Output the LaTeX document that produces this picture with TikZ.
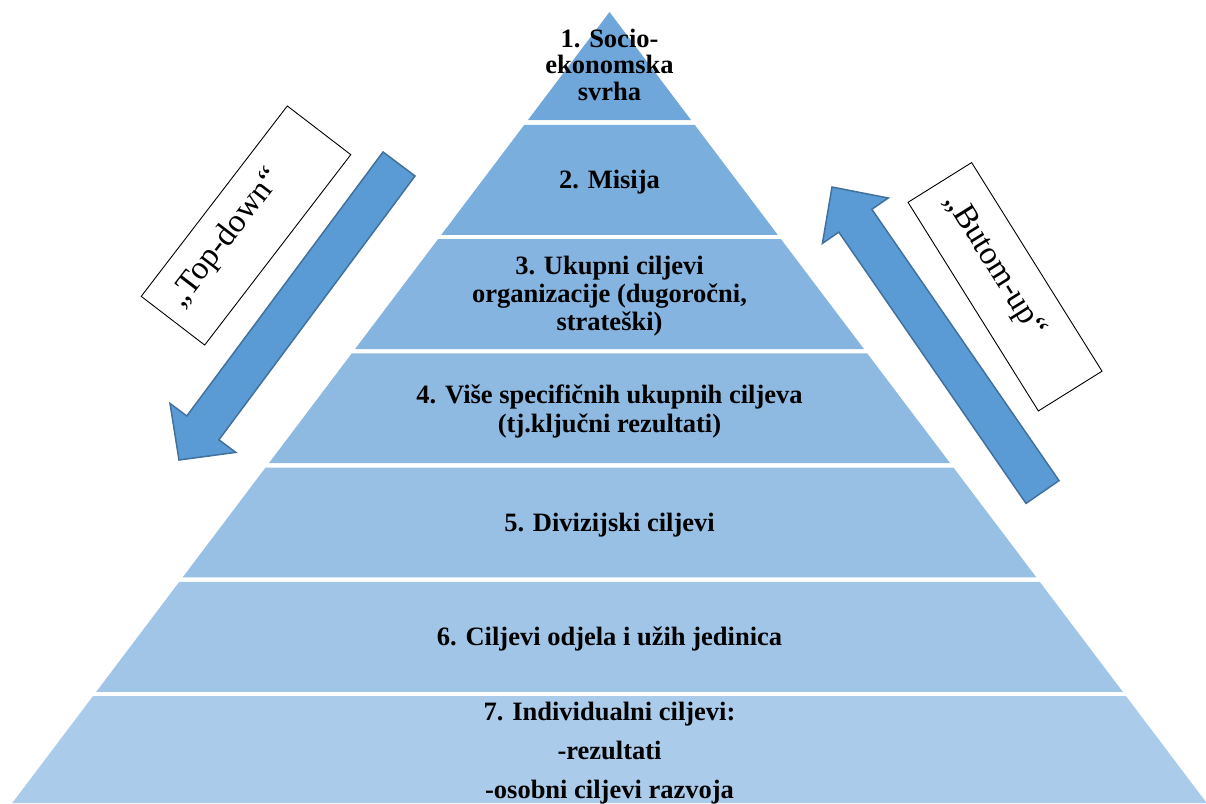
\documentclass[tikz,border=0pt]{standalone}
\usepackage{fontspec}
\setmainfont{Liberation Serif}
\definecolor{pyrblue}{HTML}{5B9BD5}
\definecolor{arrowblue}{HTML}{5B9BD5}
\definecolor{arrowline}{HTML}{41719C}
\newcommand\pyrlayer[3]{%
  \fill[#3] ({609.5-0.755*(#1-12)},#1) -- ({609.5+0.755*(#1-12)},#1)
    -- ({609.5+0.755*(#2-12)},#2) -- ({609.5-0.755*(#2-12)},#2) -- cycle;}
\begin{document}
\begin{tikzpicture}[x=1pt,y=-1pt,
  lbl/.style={font=\bfseries\fontsize{26.5}{28}\selectfont, align=center, inner sep=0pt},
  blockarrow/.style={fill=arrowblue, draw=arrowline, line width=1.5pt, line join=miter},
  tagbox/.style={draw=black, line width=0.9pt, fill=white, inner ysep=0pt,
    align=left, font=\fontsize{33}{35}\selectfont}]
\useasboundingbox (0,0) rectangle (1206,803);
% pyramid layers
\pyrlayer{12}{120.2}{pyrblue!88!white}
\pyrlayer{124.8}{234.8}{pyrblue!81!white}
\pyrlayer{239.2}{349}{pyrblue!75!white}
\pyrlayer{353.4}{463.2}{pyrblue!69!white}
\pyrlayer{467.6}{577.4}{pyrblue!63!white}
\pyrlayer{581.8}{691.8}{pyrblue!58!white}
\pyrlayer{696.2}{803}{pyrblue!52!white}
% labels
\node[lbl, font=\bfseries\fontsize{26.5}{26.5}\selectfont] (l1) at (609.5,64.5) {1. Socio-\\ekonomska\\svrha};
\node[lbl] (l2) at (609.5,182) {2. Misija};
\node[lbl] (l3) at (609.5,296.5) {3. Ukupni ciljevi\\organizacije (dugoročni,\\strateški)};
\node[lbl, font=\bfseries\fontsize{26.5}{29}\selectfont] (l4) at (609.5,411.5) {4. Više specifičnih ukupnih ciljeva\\(tj.ključni rezultati)};
\node[lbl] (l5) at (609.5,524.7) {5. Divizijski ciljevi};
\node[lbl] (l6) at (609.5,639) {6. Ciljevi odjela i užih jedinica};
\node[lbl, font=\bfseries\fontsize{26.5}{39}\selectfont] (l7) at (609.5,753) {7. Individualni ciljevi:\\-rezultati\\-osobni ciljevi razvoja};
% top-down arrow
\coordinate (tdA) at (383,152);
\coordinate (tdB) at (415,176);
\coordinate (tdC) at (218.9,439.8);
\coordinate (tdD) at (235.8,452.4);
\coordinate (tdTip) at (179,460);
\coordinate (tdE) at (170,403.4);
\coordinate (tdF) at (186.8,416);
\draw[blockarrow] (tdA) -- (tdB) -- (tdC) -- (tdD) -- (tdTip) -- (tdE) -- (tdF) -- cycle;
% bottom-up arrow
\coordinate (buA) at (1059,480.6);
\coordinate (buB) at (871.8,209.3);
\coordinate (buC) at (888.2,198);
\coordinate (buTip) at (832,187);
\coordinate (buD) at (822.4,243.4);
\coordinate (buE) at (838.8,232.1);
\coordinate (buF) at (1026,503.4);
\draw[blockarrow] (buA) -- (buB) -- (buC) -- (buTip) -- (buD) -- (buE) -- (buF) -- cycle;
% tag boxes
\node[tagbox, rotate=52.5, minimum height=80pt, inner xsep=15pt, text width=210pt,
  text height=22pt, text depth=22pt] (topdown) at (246,225.5) {„Top-down“};
\node[tagbox, rotate=-58, minimum height=75pt, inner xsep=18pt, text width=210pt,
  text height=22pt, text depth=11pt] (butomup) at (1005,286.75) {„Butom-up“};
\end{tikzpicture}
\end{document}
